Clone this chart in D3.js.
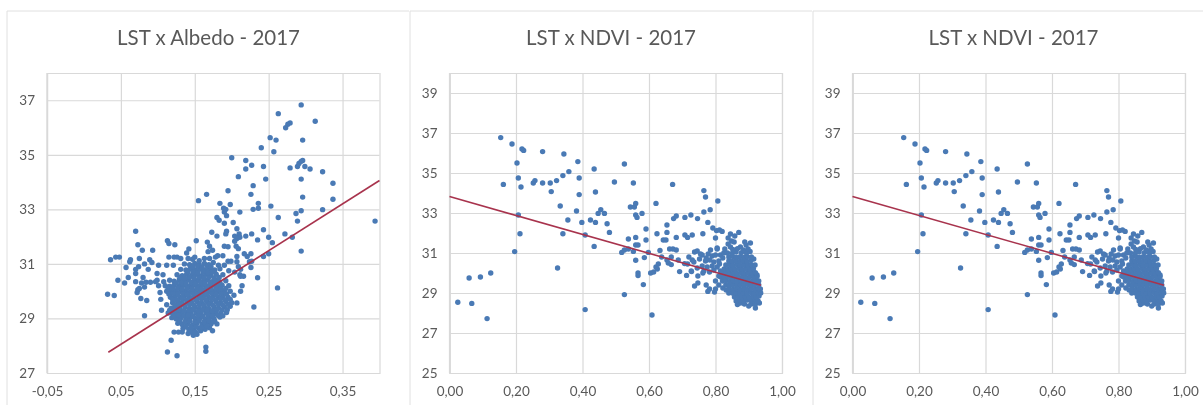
<!DOCTYPE html>
<html>
<head>
<meta charset="utf-8">
<script src="https://cdn.jsdelivr.net/npm/d3@7"></script>
<style>
html, body { margin: 0; padding: 0; background: #fff; }
svg { display: block; filter: blur(0.45px); }
text { font-family: Lato, "Open Sans", sans-serif; fill: #595959; }
</style>
</head>
<body>
<div id="viewport"></div>
<script>
// values: [x, LST]
var albedoOutliers = [
    [.294,36.83],[.263,36.51],[.313,36.23],[.279,36.17],[.276,36.12],[.273,35.99],[.252,35.63],[.260,35.54],
    [.296,35.54],[.257,35.11],[.240,35.26],[.200,34.89],[.219,34.79],[.219,34.48],[.227,34.62],[.243,34.57],
    [.279,34.52],[.289,34.57],[.291,34.68],[.294,34.76],[.296,34.79],[.299,34.57],[.306,34.48],[.323,34.38],
    [.294,34.11],[.246,34.11],[.209,34.2],[.229,33.87],[.337,33.96],[.195,33.68],[.226,33.55],[.166,33.55],
    [.155,33.32],[.296,33.45],[.337,33.37],[.184,33.22],[.198,33.18],[.236,33.22],[.253,33.12],[.236,33.04],
    [.229,33.0],[.323,32.99],[.294,32.95],[.287,32.85],[.211,32.9],[.189,33.04],[.192,33.0],[.19,32.9],
    [.193,32.77],[.263,32.7],[.18,32.7],[.183,32.6],[.19,32.49],[.202,32.52],[.289,32.57],[.394,32.57],
    [.207,32.29],[.193,32.2],[.192,32.1],[.173,32.16],[.18,32.02],[.227,32.1],[.243,32.25],[.21,32.1],
    [.204,32.02],[.211,31.98],[.207,31.93],[.219,32.02],[.07,32.2],[.272,32.1],[.282,31.98],[.25,31.98],
    [.235,31.88],[.255,31.78],[.204,31.83],[.294,31.47],[.25,31.37],[.243,31.27],[.217,31.37],[.221,31.27],
    [.226,31.37],[.224,31.08],[.227,31.1],[.226,30.87],[.235,30.49],[.262,30.12],[.23,29.42],[.207,29.57],
    [.211,30.6],[.214,30.2],[.212,30],[.216,30.55],[.209,30.9],[.212,30.8],[.207,31.27],[.207,31.08],
    [.209,31.56],[.206,31.65],[.195,31.63],[.19,31.65],[.181,31.3],[.188,31.3],[.195,31.1],[.199,31.1],
    [.032,29.89],[.041,29.84],[.036,31.15],[.043,31.25],[.048,31.25],[.046,30.4],[.055,30.3],[.06,30.5],
    [.057,30.87],[.062,31.08],[.063,31.15],[.07,30.8],[.074,30.9],[.07,30.65],[.075,31.2],[.073,31.7],
    [.079,31.5],[.07,30.35],[.073,30.05],[.072,29.95],[.075,30.1],[.077,29.73],[.085,29.66],[.082,29.1],
    [.082,31],[.087,30.8],[.089,31.15],[.092,31.05],[.093,31.5],[.08,30.5],[.084,30.33],[.082,30.15],
    [.09,30.33],[.078,30.3],[.101,30.95],[.099,30.65],[.115,31.25],[.113,31.85],[.115,31.75],[.123,31.7],
    [.122,31.25],[.126,31.25],[.112,30.95],[.121,30.95],[.101,30.2],[.103,29.95],[.099,30.4],[.107,30.6],
    [.104,29.7],[.112,29.5],[.105,29.3],[.097,30.35],[.108,30.35],[.128,28.5],[.122,28.5],[.118,28.2],
    [.113,27.77],[.126,27.63],[.165,27.95],[.165,27.8],[.133,28.5],[.174,28.55],[.18,28.8],[.152,31.85],
    [.167,31.8],[.142,31.55],[.139,31.4],[.131,31.2],[.15,31.25],[.17,31.65],[.174,31.5],[.168,31.45],
    [.178,31.25],[.182,30.95],[.19,30.95],[.196,30.75],[.204,30.7],[.212,30.55]
];

var albedoCore = [
    [.141,28.45],[.148,28.38],[.153,28.42],[.158,28.55],[.134,28.62],[.142,28.6],[.149,28.58],[.156,28.63],[.164,28.6],[.17,28.66],
    [.127,28.82],[.133,28.78],[.14,28.8],[.147,28.75],[.153,28.82],[.16,28.78],[.166,28.83],[.172,28.8],[.177,28.9],
    [.119,29.03],[.125,28.98],[.131,29.02],[.138,28.97],[.144,29.03],[.151,28.98],[.157,29.02],[.164,28.97],[.17,29.03],[.176,28.98],[.184,29.05],
    [.114,29.2],[.12,29.18],[.126,29.22],[.132,29.17],[.139,29.22],[.145,29.18],[.152,29.22],[.158,29.17],[.165,29.22],[.171,29.18],[.178,29.22],[.185,29.18],[.193,29.22],
    [.118,29.38],[.124,29.42],[.13,29.38],[.137,29.42],[.143,29.37],[.15,29.42],[.156,29.38],[.163,29.42],[.169,29.37],[.176,29.42],[.182,29.38],[.19,29.42],[.198,29.45],
    [.12,29.58],[.127,29.62],[.133,29.58],[.14,29.62],[.146,29.57],[.153,29.62],[.159,29.58],[.166,29.62],[.172,29.57],[.179,29.62],[.185,29.58],[.192,29.62],[.2,29.58],
    [.117,29.78],[.123,29.82],[.13,29.78],[.136,29.82],[.143,29.77],[.149,29.82],[.156,29.78],[.162,29.82],[.169,29.77],[.175,29.82],[.182,29.78],[.188,29.82],[.195,29.78],[.203,29.85],
    [.112,30.0],[.118,29.97],[.125,30.02],[.131,29.98],[.138,30.02],[.144,29.97],[.151,30.02],[.157,29.98],[.164,30.02],[.17,29.97],[.177,30.02],[.183,29.98],[.19,30.02],[.198,30.0],
    [.11,30.2],[.116,30.18],[.122,30.22],[.129,30.18],[.135,30.22],[.142,30.17],[.148,30.22],[.155,30.18],[.161,30.22],[.168,30.17],[.174,30.22],[.181,30.18],[.187,30.22],[.196,30.2],
    [.116,30.4],[.122,30.37],[.129,30.42],[.136,30.38],[.142,30.42],[.149,30.37],[.155,30.42],[.162,30.38],[.168,30.42],[.175,30.37],[.181,30.42],[.192,30.38],
    [.126,30.6],[.133,30.57],[.139,30.62],[.146,30.58],[.152,30.62],[.159,30.57],[.165,30.62],[.172,30.58],[.179,30.62],[.188,30.6],
    [.131,30.8],[.138,30.78],[.144,30.82],[.151,30.78],[.157,30.82],[.164,30.77],[.17,30.82],[.177,30.78],[.184,30.82],
    [.136,31.0],[.143,30.97],[.15,31.02],[.156,30.98],[.163,31.02],[.169,30.97],[.175,31.05],
    [.141,31.2],[.147,31.17],[.156,31.12],[.163,31.2],[.17,31.2]
];

// second pass over the solid part of the blob, where single dots cannot be told apart
var albedoCoreFill = [
    [.145,28.5],[.151,28.5],[.138,28.7],[.145,28.68],[.152,28.7],[.159,28.68],[.166,28.72],[.13,28.9],[.137,28.88],[.143,28.9],[.15,28.88],[.156,28.92],[.163,28.88],[.169,28.92],[.175,28.88],
    [.122,29.1],[.128,29.12],[.135,29.1],[.141,29.12],[.148,29.08],[.155,29.12],[.161,29.08],[.168,29.12],[.174,29.08],[.181,29.12],[.188,29.1],
    [.116,29.3],[.122,29.3],[.129,29.32],[.135,29.28],[.142,29.3],[.148,29.32],[.155,29.28],[.161,29.32],[.167,29.3],[.174,29.28],[.18,29.32],[.187,29.3],[.194,29.32],
    [.123,29.5],[.129,29.52],[.136,29.48],[.143,29.52],[.149,29.48],[.156,29.52],[.162,29.48],[.169,29.52],[.175,29.48],[.182,29.52],[.188,29.48],[.195,29.52],
    [.12,29.7],[.126,29.68],[.133,29.72],[.139,29.68],[.146,29.72],[.152,29.68],[.159,29.72],[.165,29.68],[.172,29.72],[.178,29.68],[.185,29.72],[.191,29.68],[.198,29.7],
    [.115,29.9],[.121,29.92],[.127,29.88],[.134,29.92],[.14,29.88],[.147,29.92],[.153,29.88],[.16,29.92],[.166,29.88],[.173,29.92],[.179,29.88],[.186,29.92],[.193,29.9],
    [.114,30.1],[.12,30.1],[.127,30.12],[.133,30.08],[.14,30.12],[.146,30.08],[.153,30.12],[.159,30.08],[.166,30.12],[.172,30.08],[.179,30.12],[.185,30.08],[.192,30.1],
    [.125,30.3],[.132,30.32],[.138,30.28],[.145,30.32],[.151,30.28],[.158,30.32],[.164,30.28],[.171,30.32],[.177,30.28],[.184,30.32],
    [.13,30.5],[.136,30.48],[.143,30.52],[.149,30.48],[.156,30.52],[.162,30.48],[.169,30.52],[.176,30.48],[.183,30.5],
    [.141,30.7],[.148,30.72],[.154,30.68],[.161,30.72],[.168,30.68],[.174,30.72],[.147,30.9],[.154,30.92],[.16,30.88],[.167,30.92],[.172,30.9]
];

var ndviOutliers = [
    [.154,36.77],[.188,36.45],[.218,36.2],[.223,36.13],[.203,35.5],[.207,34.75],[.162,34.43],[.215,34.3],
    [.28,36.07],[.344,35.95],[.386,35.57],[.359,35.07],[.341,34.87],[.322,34.62],[.303,34.5],[.28,34.5],
    [.252,34.5],[.257,34.62],[.39,34.75],[.306,34.07],[.435,35.2],[.439,34.05],[.39,33.92],[.333,33.35],
    [.382,33.1],[.356,32.65],[.398,32.53],[.424,32.65],[.439,32.53],[.447,32.98],[.455,33.16],[.466,32.98],
    [.474,32.46],[.481,32.03],[.496,34.55],[.526,35.45],[.553,34.5],[.671,34.43],[.544,33.3],[.556,33.3],
    [.56,33.48],[.56,32.9],[.564,32.78],[.579,32.98],[.621,33.48],[.591,32.2],[.624,31.96],[.654,32.4],
    [.654,32.03],[.674,32.72],[.682,32.85],[.708,32.78],[.726,32.9],[.746,32.72],[.765,33.05],[.784,33.16],
    [.765,34.12],[.77,33.8],[.807,33.6],[.777,32.53],[.762,31.96],[.73,31.9],[.708,31.9],[.716,31.78],
    [.682,31.78],[.643,31.65],[.651,31.65],[.56,31.78],[.538,31.7],[.591,31.65],[.56,31.4],[.567,31.4],
    [.341,31.96],[.212,31.96],[.207,32.9],[.408,31.9],[.435,31.33],[.196,31.07],[.325,30.25],[.124,30],
    [.093,29.8],[.059,29.75],[.025,28.54],[.067,28.48],[.113,27.72],[.408,28.17],[.526,28.92],[.609,27.9],
    [.518,31.03],[.526,31.15],[.538,31.2],[.553,31.08],[.56,30.64],[.567,30],[.567,29.87],[.583,29.42],
    [.586,30.77],[.598,31.03],[.605,30],[.614,30.05],[.625,30.2],[.621,30.3],[.628,30.45],[.633,31.13],
    [.638,30.8],[.654,30.65],[.667,30.8],[.658,30.5],[.667,30.42],[.688,30.65],[.662,31.2],[.672,31.2],
    [.682,31.15],[.692,30.07],[.707,30.47],[.713,29.88],[.728,30.07],[.737,31.05],[.716,30.45],[.737,29.35],
    [.747,29.5],[.747,29.85],[.727,30.1],[.762,30],[.777,29.08],[.782,29.2],[.772,29.4],[.797,29.05],[.8,29.2],
    [.72,30.8],[.73,30.65],[.745,31.1],[.76,30.9],[.77,30.6],[.775,30.3],[.745,30.25],[.76,30.35],[.752,30.7],
    [.785,31.15],[.79,30.85],[.795,30.55],[.805,31.2],[.782,30.05],[.795,30.15],[.8,29.6],[.81,29.4],
    [.792,32.25],[.803,32.12],[.812,32.15],[.82,32.08],[.8,31.75],[.805,31.25],[.815,30.9],[.825,31],
    [.87,32.03],[.845,31.95],[.858,31.85],[.838,31.75],[.848,31.6],[.838,31.45],[.856,31.55],[.888,31.55],
    [.905,31.5],[.892,31.4],[.875,31.3],[.845,31.3],[.915,30.7],[.925,29.9],[.935,29.2],[.92,28.25],[.932,28.5],
    [.778,30.95],[.783,30.65],[.8,30.9],[.81,30.6],[.805,30.3],[.815,30.1],[.772,30.75],[.765,30.1],[.79,30.35],
    [.81,29.85],[.822,29.25],[.832,29.15],[.84,29.0],[.812,30.45],[.822,30.75],[.828,31.2],[.735,30.55],[.755,30.95]
];

var ndviCore = [
    [.866,28.42],[.875,28.5],[.887,28.45],[.9,28.35],[.908,28.45],[.92,28.45],
    [.862,28.6],[.874,28.65],[.885,28.6],[.897,28.65],[.908,28.62],[.919,28.66],[.928,28.6],
    [.857,28.8],[.868,28.83],[.879,28.78],[.89,28.83],[.901,28.78],[.912,28.83],[.923,28.78],[.931,28.85],
    [.851,29.0],[.862,29.02],[.873,28.98],[.884,29.02],[.895,28.98],[.906,29.02],[.917,28.98],[.928,29.03],[.936,29.0],
    [.841,29.2],[.852,29.18],[.863,29.22],[.874,29.18],[.885,29.22],[.896,29.18],[.907,29.22],[.918,29.18],[.929,29.22],
    [.831,29.4],[.842,29.38],[.853,29.42],[.864,29.38],[.875,29.42],[.886,29.38],[.897,29.42],[.908,29.38],[.919,29.42],[.93,29.4],
    [.821,29.6],[.832,29.62],[.843,29.58],[.854,29.62],[.865,29.58],[.876,29.62],[.887,29.58],[.898,29.62],[.909,29.58],[.92,29.62],[.93,29.6],
    [.816,29.8],[.827,29.78],[.838,29.82],[.849,29.78],[.86,29.82],[.871,29.78],[.882,29.82],[.893,29.78],[.904,29.82],[.915,29.78],[.925,29.82],
    [.821,30.0],[.832,30.02],[.843,29.98],[.854,30.02],[.865,29.98],[.876,30.02],[.887,29.98],[.898,30.02],[.909,29.98],[.92,30.02],
    [.826,30.2],[.837,30.18],[.848,30.22],[.859,30.18],[.87,30.22],[.881,30.18],[.892,30.22],[.903,30.18],[.914,30.22],
    [.831,30.4],[.842,30.42],[.853,30.38],[.864,30.42],[.875,30.38],[.886,30.42],[.897,30.38],[.908,30.42],[.919,30.4],
    [.84,30.6],[.851,30.58],[.862,30.62],[.873,30.58],[.884,30.62],[.895,30.58],[.906,30.62],
    [.84,30.8],[.852,30.82],[.863,30.78],[.874,30.82],[.885,30.78],[.896,30.82],[.908,30.8],
    [.836,31.0],[.85,30.98],[.862,31.05],[.878,31.02],[.893,31],[.904,31.08],
    [.852,31.18],[.866,31.22],[.884,31.15],[.898,31.2]
];

var albedoTicksX = [-0.05, 0.05, 0.15, 0.25, 0.35],
    albedoTicksY = [27, 29, 31, 33, 35, 37],
    ndviTicksX = [0, 0.2, 0.4, 0.6, 0.8, 1],
    ndviTicksY = [25, 27, 29, 31, 33, 35, 37, 39];

var albedoTrend = [[.033, 27.76], [.40, 34.06]],
    ndviTrend = [[0, 33.82], [.937, 29.39]];

// decimal comma and a plain hyphen, as in the original labels
var comma = function(d) { return d3.format(".2f")(d).replace(".", ",").replace("\u2212", "-"); };

var svg = d3.select("#viewport").append("svg")
    .attr("width", 1203)
    .attr("height", 405);

// panel outlines, only the top and left edges are inside the crop
var panelLefts = [7, 410, 813], panelRights = [409, 812, 1203];
panelLefts.forEach(function(left, i) {
    svg.append("path")
        .attr("d", d3.line()([[left, 405], [left, 11], [panelRights[i], 11]]))
        .attr("fill", "none")
        .attr("stroke", "#e0e0e0");
});

function drawChart(opts) {
    var x = d3.scaleLinear().domain(opts.xDomain).range([opts.left, opts.left + 332.5]),
        y = d3.scaleLinear().domain(opts.yDomain).range([373, 73]);

    var g = svg.append("g");

    var xAxis = g.append("g")
        .attr("transform", "translate(0,373)")
        .call(d3.axisBottom(x).tickValues(opts.xTicks).tickFormat(comma).tickSize(-300).tickPadding(13));
    var yAxis = g.append("g")
        .attr("transform", "translate(" + opts.left + ",0)")
        .call(d3.axisLeft(y).tickValues(opts.yTicks).tickFormat(d3.format("d")).tickSize(-332.5).tickPadding(12));

    [xAxis, yAxis].forEach(function(a) {
        a.selectAll("line").attr("stroke", "#d9d9d9").attr("stroke-width", 1.2);
        a.selectAll("text").style("font-size", "13.5px").attr("fill", "#595959");
        a.select(".domain").attr("stroke", "#d9d9d9").attr("stroke-width", 1.2);
    });
    // left edge of the plot is a gridline too
    g.append("line")
        .attr("x1", opts.left).attr("x2", opts.left)
        .attr("y1", 73).attr("y2", 373)
        .attr("stroke", "#d9d9d9").attr("stroke-width", 1.2);

    g.append("g").selectAll("circle")
        .data(opts.points)
        .enter().append("circle")
        .attr("cx", function(d) { return x(d[0]); })
        .attr("cy", function(d) { return y(d[1]); })
        .attr("r", 2.7)
        .attr("fill", "#4a7ab5");

    g.append("path")
        .attr("d", d3.line().x(function(d) { return x(d[0]); }).y(function(d) { return y(d[1]); })(opts.trend))
        .attr("fill", "none")
        .attr("stroke", "#a8334d")
        .attr("stroke-width", 1.6);

    svg.append("text")
        .attr("x", opts.titleX)
        .attr("y", 45)
        .attr("text-anchor", "middle")
        .style("font-size", "20.5px")
        .text(opts.title);
}

drawChart({
    title: "LST x Albedo - 2017", titleX: 208.5, left: 47,
    xDomain: [-0.05, 0.40], yDomain: [27, 38],
    xTicks: albedoTicksX, yTicks: albedoTicksY,
    points: albedoOutliers.concat(albedoCore, albedoCoreFill), trend: albedoTrend
});
drawChart({
    title: "LST x NDVI - 2017", titleX: 611, left: 449.5,
    xDomain: [0, 1], yDomain: [25, 40],
    xTicks: ndviTicksX, yTicks: ndviTicksY,
    points: ndviOutliers.concat(ndviCore), trend: ndviTrend
});
drawChart({
    title: "LST x NDVI - 2017", titleX: 1013.5, left: 852.5,
    xDomain: [0, 1], yDomain: [25, 40],
    xTicks: ndviTicksX, yTicks: ndviTicksY,
    points: ndviOutliers.concat(ndviCore), trend: ndviTrend
});
</script>
</body>
</html>
